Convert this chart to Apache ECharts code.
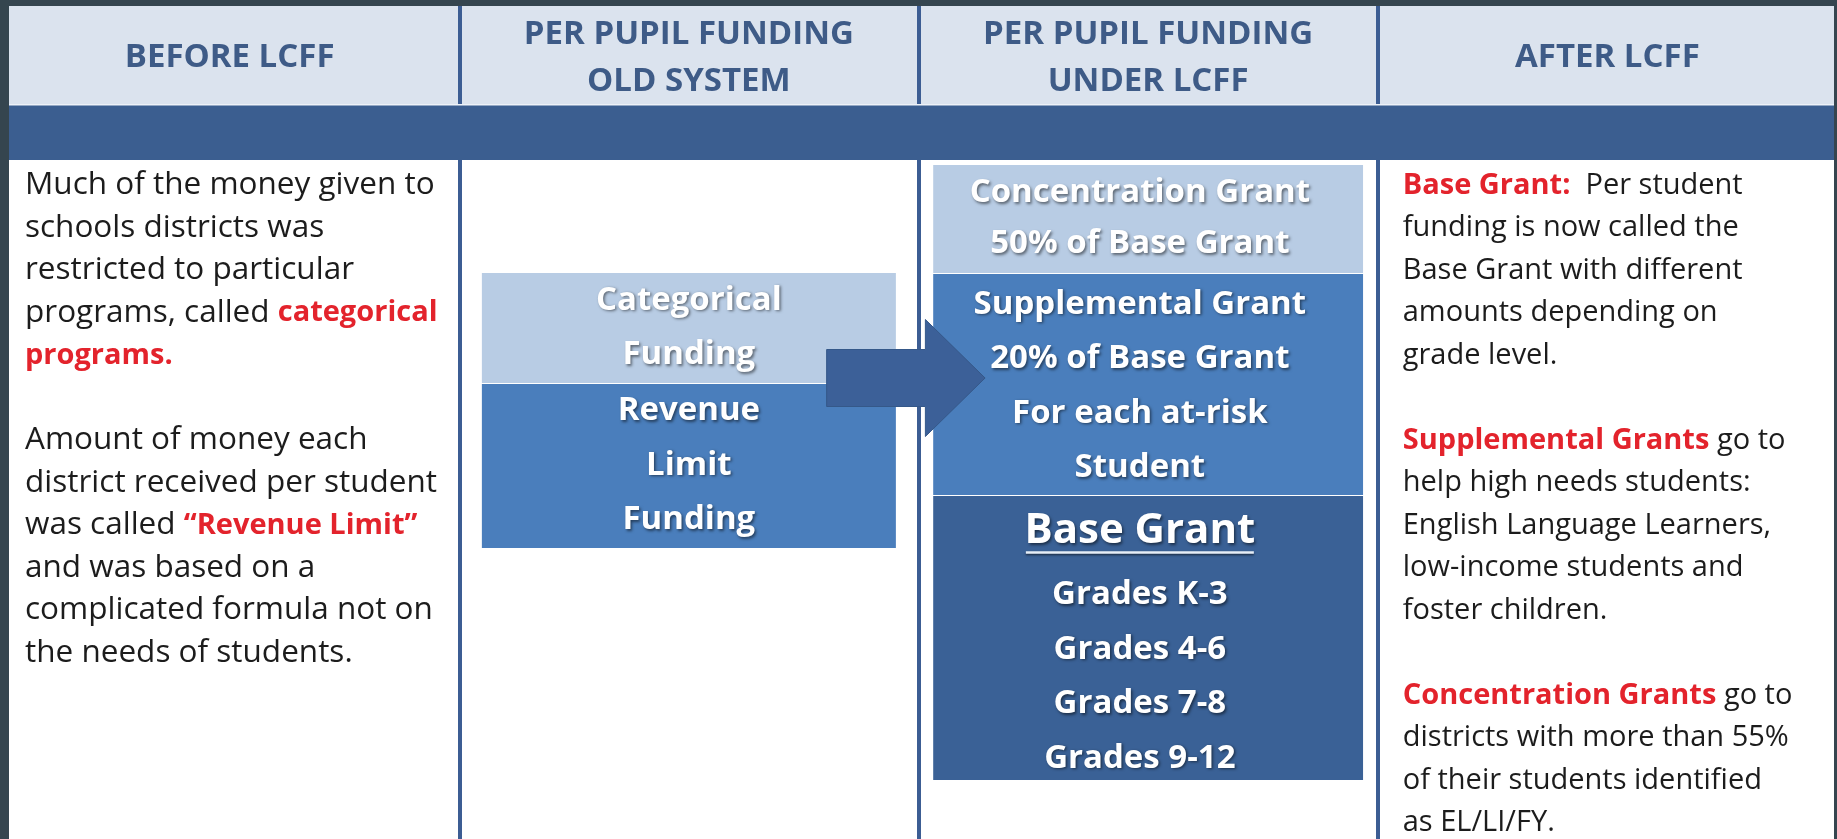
<!DOCTYPE html>
<html><head><meta charset="utf-8">
<script src="https://cdn.jsdelivr.net/npm/echarts@6/dist/echarts.min.js"></script>
<style>html,body{margin:0;padding:0;background:#fff;overflow:hidden}#c{width:1837px;height:839px}</style>
</head><body><div id="c"></div>
<script>
// ---- content ----
const columnTitles = ['BEFORE LCFF', 'PER PUPIL FUNDING\nOLD SYSTEM', 'PER PUPIL FUNDING\nUNDER LCFF', 'AFTER LCFF'];

// stacked funding layers (vertical axis units, top-down)
const oldSystemLayers = ['Categorical\nFunding', 'Revenue\nLimit\nFunding'];
const oldSystemBounds = [272, 383, 548];
const lcffLayers = ['Concentration Grant\n50% of Base Grant', 'Supplemental Grant\n20% of Base Grant\nFor each at-risk\nStudent', 'Base Grant'];
const lcffBounds = [164, 273, 495, 780];
const baseGrantLevels = ['Grades K-3', 'Grades 4-6', 'Grades 7-8', 'Grades 9-12'];

const beforeNotes = [
  'Much of the money given to',
  'schools districts was',
  'restricted to particular',
  'programs, called {r|categorical}',
  '{r|programs.}',
  ' ',
  'Amount of money each',
  'district received per student',
  'was called {r|\u201cRevenue Limit\u201d}',
  'and was based on a',
  'complicated formula not on',
  'the needs of students.'
];
const afterNotes = [
  '{r|Base Grant:}  Per student',
  'funding is now called the',
  'Base Grant with different',
  'amounts depending on',
  'grade level.',
  ' ',
  '{r|Supplemental Grants} go to',
  'help high needs students:',
  'English Language Learners,',
  'low-income students and',
  'foster children.',
  ' ',
  '{r|Concentration Grants} go to',
  'districts with more than 55%',
  'of their students identified',
  'as EL/LI/FY.'
];
const notesTop = 164;
const arrowLevel = 378;

// ---- styles ----
const FONT = 'Open Sans';
const toneColors = ['#b8cce4', '#4a7ebc', '#3a6196'];
const oldTones = [0, 1];
const lcffTones = [0, 1, 2];
const noteSizes = [31.5, 29];
const noteRedSizes = [29, 29];

const blockData = [];
oldSystemLayers.forEach((t, i) => blockData.push([1, oldSystemBounds[i], oldSystemBounds[i + 1], i, 0]));
lcffLayers.forEach((t, i) => blockData.push([2, lcffBounds[i], lcffBounds[i + 1], i, 1]));

const shadow = {textShadowColor: 'rgba(0,0,0,0.5)', textShadowBlur: 3, textShadowOffsetX: 1.5, textShadowOffsetY: 1.5};

function renderBlock(params, api) {
  const col = api.value(0), y0 = api.value(1), y1 = api.value(2), k = api.value(3), set = api.value(4);
  const cw = api.size([1, 0])[0];
  const top = api.coord([col, y0]);
  const bot = api.coord([col, y1]);
  const w = cw * (set === 0 ? 0.9015 : 0.936);
  const x = top[0] - w / 2;
  const tone = set === 0 ? oldTones[k] : lcffTones[k];
  const children = [{
    type: 'rect',
    shape: {x: x, y: top[1] + 1, width: w, height: bot[1] - top[1] - 1},
    style: {fill: toneColors[tone]}
  }];
  const tx = top[0] + (set === 1 ? -cw * 0.018 : 0);
  let cy = (top[1] + bot[1]) / 2;
  if (set === 1 && k === 2) {
    cy += 3;
    const txt = '{t|' + lcffLayers[k] + '}\n' + baseGrantLevels.map(g => '{g|' + g + '}').join('\n');
    children.push({
      type: 'text',
      style: Object.assign({
        text: txt, x: tx, y: cy, align: 'center', verticalAlign: 'middle', fill: '#fff',
        rich: {
          t: {fontFamily: FONT, fontWeight: 'bold', fontSize: 42, lineHeight: 72, fill: '#fff'},
          g: {fontFamily: FONT, fontWeight: 'bold', fontSize: 33, lineHeight: 54.5, fill: '#fff'}
        }
      }, shadow)
    });
    const ty = cy - 145 + 36;
    children.push({
      type: 'line',
      shape: {x1: tx - 114, y1: ty + 21, x2: tx + 114, y2: ty + 21},
      style: {stroke: '#e6eef7', lineWidth: 2.5, shadowColor: 'rgba(0,0,0,0.5)', shadowBlur: 2, shadowOffsetY: 1.5}
    });
  } else {
    if (set === 1 && k === 1) cy += 2;
    const label = set === 0 ? oldSystemLayers[k] : lcffLayers[k];
    children.push({
      type: 'text',
      style: Object.assign({
        text: label, x: tx, y: cy, align: 'center', verticalAlign: 'middle',
        fill: '#fff', fontFamily: FONT, fontWeight: 'bold', fontSize: 33, lineHeight: set === 0 ? 54.5 : (k === 0 ? 51 : 54.5)
      }, shadow)
    });
  }
  return {type: 'group', children: children};
}

function renderNotes(params, api) {
  const col = api.value(0), which = api.value(1);
  const cw = api.size([1, 0])[0];
  const p = api.coord([col, notesTop]);
  const lines = which === 0 ? beforeNotes : afterNotes;
  const fs = noteSizes[which];
  return {
    type: 'text',
    style: {
      text: lines.join('\n'), x: p[0] - cw / 2 + 25, y: p[1], align: 'left', verticalAlign: 'top',
      fill: '#1c1c1c', fontFamily: FONT, fontSize: fs, lineHeight: 42.5,
      rich: {r: {fill: '#e3232c', fontFamily: FONT, fontWeight: 'bold', fontSize: noteRedSizes[which], lineHeight: 42.5}}
    }
  };
}

function renderArrow(params, api) {
  const from = api.coord([api.value(0), api.value(2)]);
  const to = api.coord([api.value(1), api.value(2)]);
  const cw = api.size([1, 0])[0];
  const hs = api.size([0, 28.5])[1], hh = api.size([0, 58.5])[1];
  const xs = from[0] + 0.3 * cw, xb = to[0] - 0.485 * cw, xt = to[0] - 0.355 * cw, y = from[1];
  return {
    type: 'polygon',
    shape: {points: [[xs, y - hs], [xb, y - hs], [xb, y - hh], [xt, y], [xb, y + hh], [xb, y + hs], [xs, y + hs]]},
    style: {fill: '#3c6098', stroke: '#355889', lineWidth: 1}
  };
}

const chart = echarts.init(document.getElementById('c'), null, {renderer: 'canvas'});
chart.setOption({
  backgroundColor: '#ffffff',
  animation: false,
  grid: {left: 0, right: 0, top: 0, bottom: 0},
  xAxis: {
    type: 'category', data: columnTitles, position: 'top', boundaryGap: true,
    axisLine: {show: false}, axisTick: {show: false},
    axisLabel: {inside: true, margin: 58, verticalAlign: 'middle', interval: 0, color: '#3e5b87',
      fontFamily: FONT, fontWeight: 'bold', fontSize: 33, lineHeight: 47},
    splitLine: {show: true, interval: 0, lineStyle: {color: '#3c5d93', width: 4}}
  },
  yAxis: {type: 'value', min: 0, max: 839, inverse: true, show: false, splitLine: {show: false}},
  graphic: [
    {type: 'rect', z: -10, shape: {x: 0, y: 6, width: 1837, height: 99}, style: {fill: '#dbe3ee'}},
    {type: 'rect', z: 5, shape: {x: 0, y: 105, width: 1837, height: 55}, style: {fill: '#3b5e90'}},
    {type: 'rect', z: 5, shape: {x: 0, y: 104, width: 1837, height: 1.5}, style: {fill: '#eef2f8'}},
    {type: 'rect', z: 100, shape: {x: 0, y: 0, width: 1837, height: 6}, style: {fill: '#35454f'}},
    {type: 'rect', z: 100, shape: {x: 0, y: 0, width: 9, height: 839}, style: {fill: '#35454f'}},
    {type: 'rect', z: 100, shape: {x: 1834, y: 0, width: 3, height: 839}, style: {fill: '#35454f'}}
  ],
  series: [
    {type: 'custom', z: 3, renderItem: renderBlock, data: blockData, silent: true},
    {type: 'custom', z: 3, renderItem: renderNotes, data: [[0, 0], [3, 1]], silent: true},
    {type: 'custom', z: 6, renderItem: renderArrow, data: [[1, 2, arrowLevel]], silent: true}
  ]
});
</script></body></html>
